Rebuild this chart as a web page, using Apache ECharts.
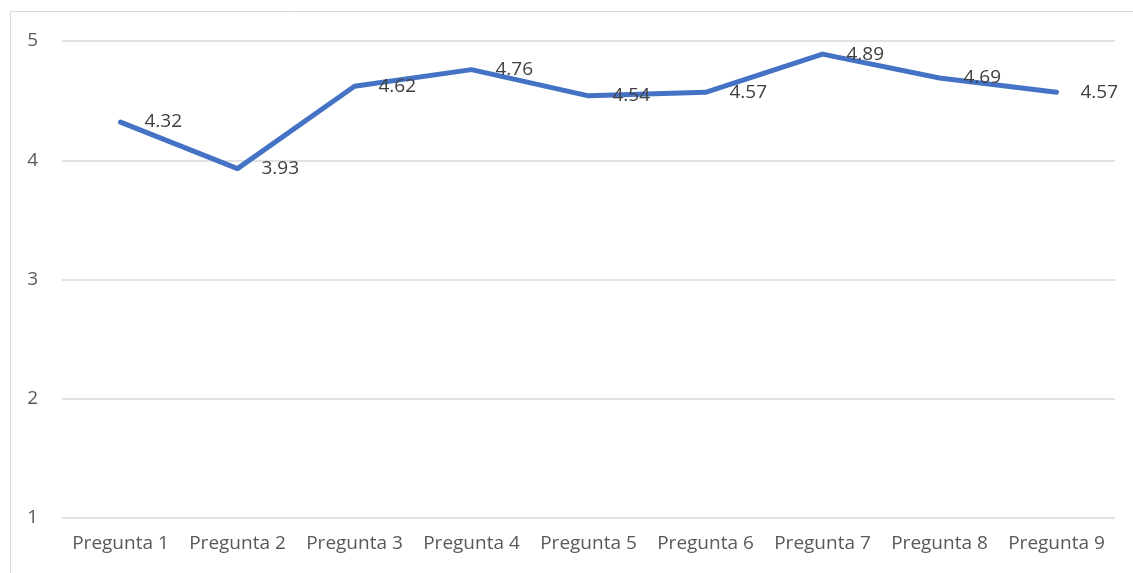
<!DOCTYPE html>
<html><head><meta charset="utf-8">
<script src="https://cdn.jsdelivr.net/npm/echarts@6/dist/echarts.min.js"></script>
<style>html,body{margin:0;padding:0;background:#fff}#c{width:1133px;height:573px}</style>
</head><body><div id="c"></div>
<script>
const categories = ['Pregunta 1','Pregunta 2','Pregunta 3','Pregunta 4','Pregunta 5','Pregunta 6','Pregunta 7','Pregunta 8','Pregunta 9'];
const values = [4.32, 3.93, 4.62, 4.76, 4.54, 4.57, 4.89, 4.69, 4.57];
const yTicks = [1, 2, 3, 4, 5];

const FONT = '"Open Sans", "Noto Sans", sans-serif';
const chart = echarts.init(document.getElementById('c'));
chart.setOption({
  animation: false,
  textStyle: { fontFamily: FONT },
  graphic: [{
    type: 'rect', shape: { x: 10.5, y: 11.5, width: 1140, height: 600 },
    style: { fill: 'none', stroke: '#d9d9d9', lineWidth: 1 }, silent: true
  }],
  grid: { left: 62, right: 18, top: 41, bottom: 55 },
  xAxis: {
    type: 'category', data: categories, boundaryGap: true,
    axisLine: { show: false }, axisTick: { show: false },
    axisLabel: { color: '#595959', fontSize: 19, fontFamily: FONT, margin: 16, interval: 0 }
  },
  yAxis: {
    type: 'value', min: yTicks[0], max: yTicks[yTicks.length - 1], interval: 1,
    axisLine: { show: false }, axisTick: { show: false },
    axisLabel: { color: '#595959', fontSize: 19, fontFamily: FONT, margin: 24 },
    splitLine: { lineStyle: { color: '#d9d9d9', width: 1.5 } }
  },
  series: [{
    type: 'line', data: values, symbol: 'circle', symbolSize: 2, showSymbol: true,
    itemStyle: { color: 'rgba(0,0,0,0)', borderWidth: 0 },
    lineStyle: { color: '#4472C4', width: 5, cap: 'round', join: 'round' },
    label: { show: true, position: 'right', distance: 23, color: '#404040', fontSize: 19,
      opacity: 1, fontFamily: FONT, offset: [0, 3], formatter: p => p.value.toFixed(2) },
    labelLayout: { hideOverlap: false }
  }]
});
</script></body></html>
